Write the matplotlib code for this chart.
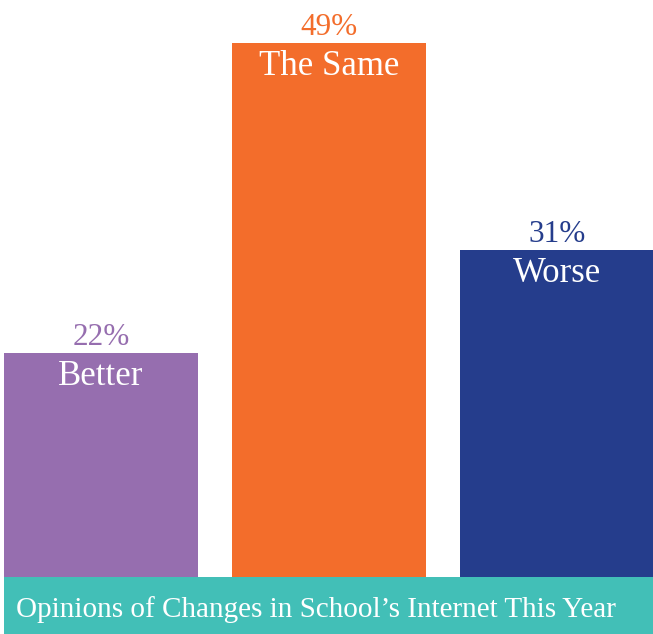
import matplotlib
matplotlib.use("Agg")
import matplotlib.pyplot as plt
from matplotlib.patches import Rectangle

categories = ["Better", "The Same", "Worse"]
values = [22, 49, 31]
pct_labels = ["22%", "49%", "31%"]
colors = ["#966EAF", "#F36D2B", "#253D8C"]
title = "Opinions of Changes in School\u2019s Internet This Year"

W, H = 653, 634
fig = plt.figure(figsize=(W / 100, H / 100), dpi=100)
ax = fig.add_axes([0, 0, 1, 1])
ax.set_xlim(-0.443, 2.421)
ax.set_ylim(-2.435, 52.7)
ax.axis("off")

font = "Liberation Serif"
x = list(range(len(categories)))
bars = ax.bar(x, values, width=0.851, color=colors, zorder=1)

for xi, v, c, cat, pl in zip(x, values, colors, categories, pct_labels):
    ax.annotate(pl, (xi, v), xytext=(0, 8), textcoords="offset pixels",
                ha="center", va="baseline", color=c, fontsize=22.5, family=font)
    ax.annotate(cat, (xi, v), xytext=(0, -32), textcoords="offset pixels",
                ha="center", va="baseline", color="white", fontsize=25, family=font)

band_h = 57 / H
fig.patches.append(Rectangle((4 / W, 0), 1 - 4 / W, band_h, transform=fig.transFigure,
                             facecolor="#42BFB7", edgecolor="none", zorder=5))
fig.text(16 / W, (H - 617) / H, title, ha="left", va="baseline", color="white",
         fontsize=21, family=font, zorder=6)

fig.savefig("out.png", dpi=100)
